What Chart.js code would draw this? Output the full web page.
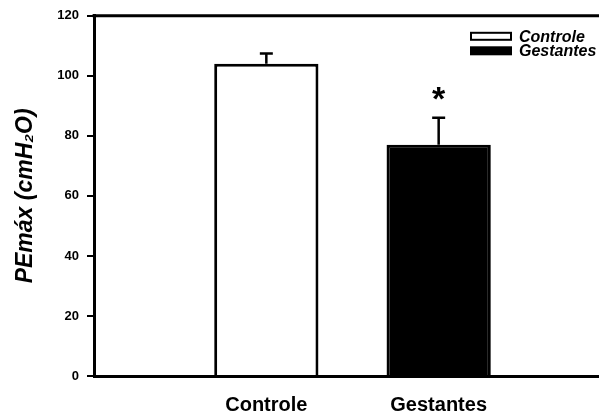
<!DOCTYPE html>
<html><head><meta charset="utf-8">
<script src="https://cdn.jsdelivr.net/npm/chart.js@4.4.0/dist/chart.umd.min.js"></script>
<style>
html,body{margin:0;padding:0;overflow:hidden;background:#fff;width:599px;height:414px}
#wrap{position:absolute;left:0;top:0;width:628px;height:414px}
</style>
</head><body><div id="wrap"><canvas id="c" width="628" height="414"></canvas></div>
<script>
const categories = ['Controle', 'Gestantes'];
const means = [104, 77];
const errors = [3.4, 9];
const significant = [false, true];
const fillColors = ['#ffffff', '#000000'];
const yTickValues = [0, 20, 40, 60, 80, 100, 120];
const yTitle = 'PEmáx (cmH₂O)';

const FONT = '"Liberation Sans", Arial, Helvetica, sans-serif';

// padded category axis: empty slot on each side
const labels = ['', ...categories, ''];
const data = [null, ...means, null];
const bg = ['#fff', ...fillColors, '#fff'];

const errorBars = {
  id: 'errorBars',
  afterDatasetsDraw(chart) {
    const ctx = chart.ctx, y = chart.scales.y;
    const meta = chart.getDatasetMeta(0);
    ctx.save();
    ctx.strokeStyle = '#000';
    ctx.lineWidth = 2.5;
    categories.forEach((c, i) => {
      const el = meta.data[i + 1];
      const top = y.getPixelForValue(means[i] + errors[i]);
      ctx.beginPath();
      ctx.moveTo(el.x, el.y);
      ctx.lineTo(el.x, top);
      ctx.moveTo(el.x - 6.5, top);
      ctx.lineTo(el.x + 6.5, top);
      ctx.stroke();
      if (significant[i]) {
        ctx.fillStyle = '#000';
        ctx.font = 'bold 34px ' + FONT;
        ctx.textAlign = 'center';
        ctx.textBaseline = 'alphabetic';
        ctx.fillText('*', el.x, top - 8);
      }
    });
    ctx.restore();
  }
};

const frame = {
  id: 'frame',
  afterDraw(chart) {
    const { ctx, chartArea: a } = chart;
    ctx.save();
    ctx.strokeStyle = '#000';
    ctx.lineWidth = 3;
    ctx.beginPath();
    ctx.moveTo(a.left - 1.5, a.top);
    ctx.lineTo(a.right, a.top);
    ctx.lineTo(a.right, a.bottom);
    ctx.stroke();
    // legend
    const boxW = 40, boxH = 7;
    const x0 = a.right - 140;
    categories.forEach((c, i) => {
      const cy = a.top + 20.5 + i * 14.5;
      ctx.fillStyle = fillColors[i];
      ctx.fillRect(x0, cy - boxH / 2, boxW, boxH);
      ctx.lineWidth = 2;
      ctx.strokeStyle = '#000';
      ctx.strokeRect(x0, cy - boxH / 2, boxW, boxH);
      ctx.fillStyle = '#000';
      ctx.font = 'italic bold 16px ' + FONT;
      ctx.textAlign = 'left';
      ctx.textBaseline = 'middle';
      ctx.fillText(c, x0 + boxW + 8, cy + 1);
    });
    ctx.restore();
  }
};

new Chart(document.getElementById('c'), {
  type: 'bar',
  data: {
    labels,
    datasets: [{
      label: 'PEmáx',
      data,
      backgroundColor: bg,
      borderColor: '#000',
      borderWidth: 3,
      borderSkipped: 'bottom',
      categoryPercentage: 0.605,
      barPercentage: 1
    }]
  },
  options: {
    responsive: false,
    animation: false,
    devicePixelRatio: 1,
    layout: { padding: { left: 0, right: 1, top: 15, bottom: 0 } },
    plugins: { legend: { display: false }, tooltip: { enabled: false } },
    scales: {
      x: {
        offset: false,
        grid: { display: false, drawTicks: false },
        border: { display: true, color: '#000', width: 3 },
        ticks: {
          color: '#000', font: { family: FONT, weight: 'bold', size: 20 },
          padding: 17, maxRotation: 0, autoSkip: false
        },
        afterFit(s) { s.height = 38; }
      },
      y: {
        min: 0, max: 120,
        afterBuildTicks(s) { s.ticks = yTickValues.map(v => ({ value: v })); },
        grid: { display: true, drawOnChartArea: false, drawTicks: true, tickLength: 7, lineWidth: 2, color: '#000' },
        border: { display: true, color: '#000', width: 3 },
        ticks: { color: '#000', font: { family: FONT, weight: 'bold', size: 13 }, padding: 8 },
        title: {
          display: true, text: yTitle, color: '#000',
          font: { family: FONT, weight: 'bold', style: 'italic', size: 23 },
          padding: { top: 12, bottom: 0 }
        },
        afterFit(s) { s.width = 94; }
      }
    }
  },
  plugins: [errorBars, frame]
});
</script>
</body></html>
